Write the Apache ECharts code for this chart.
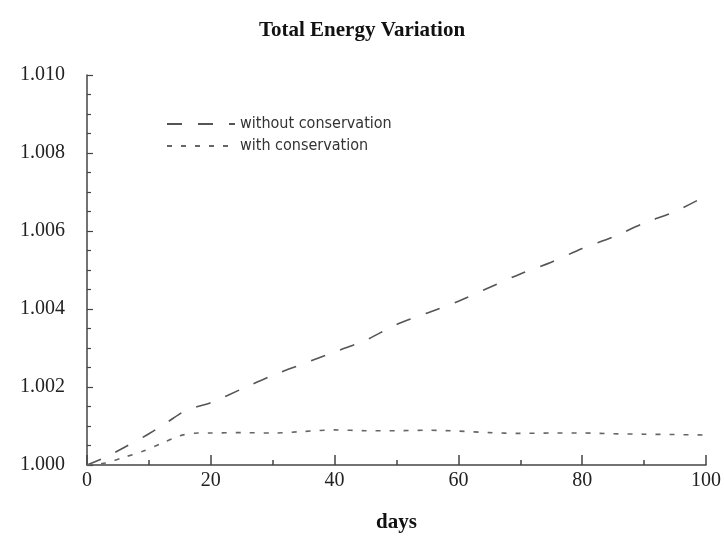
<!DOCTYPE html>
<html><head><meta charset="utf-8">
<script src="https://cdn.jsdelivr.net/npm/echarts@6/dist/echarts.min.js"></script>
<style>html,body{margin:0;padding:0;background:#fff}#c{width:724px;height:555px}</style>
</head><body><div id="c"></div>
<script>
const days = [0, 3, 6, 10, 13, 16, 20, 25, 30, 35, 40, 45, 50, 55, 60, 65, 70, 75, 80, 85, 90, 95, 100];
const withoutConservation = [1.0000, 1.0002, 1.00045, 1.0008, 1.0011, 1.0014, 1.0016, 1.00195, 1.0023, 1.0026, 1.0029, 1.0032, 1.0036, 1.0039, 1.0042, 1.00455, 1.0049, 1.0052, 1.00555, 1.00585, 1.0062, 1.0065, 1.0069];
const daysWith = [0, 3, 6, 9, 12, 15, 18, 20, 25, 30, 35, 40, 45, 50, 55, 60, 65, 70, 75, 80, 85, 90, 95, 100];
const withConservation = [1.0000, 1.00005, 1.0002, 1.00035, 1.00055, 1.00075, 1.00082, 1.00082, 1.00083, 1.00082, 1.00086, 1.0009, 1.00088, 1.00088, 1.00089, 1.00087, 1.00083, 1.00081, 1.00082, 1.00082, 1.0008, 1.00079, 1.00078, 1.00077];
const seriesNames = ['without conservation', 'with conservation'];

const chart = echarts.init(document.getElementById('c'));
const serif = 'Liberation Serif, Times New Roman, serif';
chart.setOption({
  animation: false,
  backgroundColor: '#fff',
  title: {
    text: 'Total Energy Variation', left: 'center', top: 15,
    textStyle: {fontFamily: serif, fontWeight: 'bold', fontSize: 21, color: '#111'}
  },
  legend: {
    orient: 'vertical', left: 161, top: 111, itemGap: 6, itemWidth: 68, itemHeight: 12,
    data: seriesNames,
    itemStyle: {opacity: 0},
    textStyle: {fontFamily: 'DejaVu Sans Condensed, Liberation Sans, sans-serif', fontSize: 16, color: '#333'}
  },
  grid: {left: 87, right: 18, top: 75, bottom: 90},
  xAxis: {
    type: 'value', min: 0, max: 100, interval: 20,
    name: 'days', nameLocation: 'middle', nameGap: 47,
    nameTextStyle: {fontFamily: serif, fontWeight: 'bold', fontSize: 21, color: '#111'},
    axisLine: {lineStyle: {color: '#444', width: 1.5}},
    axisTick: {inside: true, length: 10, lineStyle: {color: '#444', width: 1.5}},
    minorTick: {show: true, splitNumber: 2, length: 5, lineStyle: {color: '#444', width: 1.5}},
    splitLine: {show: false},
    axisLabel: {fontFamily: serif, fontSize: 20, color: '#222', margin: 6}
  },
  yAxis: {
    type: 'value', min: 1.000, max: 1.010, interval: 0.002,
    axisLine: {show: true, lineStyle: {color: '#444', width: 1.5}},
    axisTick: {show: true, inside: true, length: 6, lineStyle: {color: '#444', width: 1.2}},
    minorTick: {show: true, splitNumber: 4, length: 4, lineStyle: {color: '#444', width: 1.2}},
    splitLine: {show: false},
    axisLabel: {fontFamily: serif, fontSize: 20, color: '#222', margin: 22,
      formatter: v => v.toFixed(3)}
  },
  series: [
    {
      name: seriesNames[0], type: 'line', symbol: 'none', smooth: 0.3,
      data: days.map((d, i) => [d, withoutConservation[i]]),
      lineStyle: {color: '#555', width: 1.6, type: [15, 16]},
      itemStyle: {color: '#555'}
    },
    {
      name: seriesNames[1], type: 'line', symbol: 'none', smooth: 0.3,
      data: daysWith.map((d, i) => [d, withConservation[i]]),
      lineStyle: {color: '#666', width: 1.6, type: [5, 9]},
      itemStyle: {color: '#666'}
    }
  ]
});
</script></body></html>
